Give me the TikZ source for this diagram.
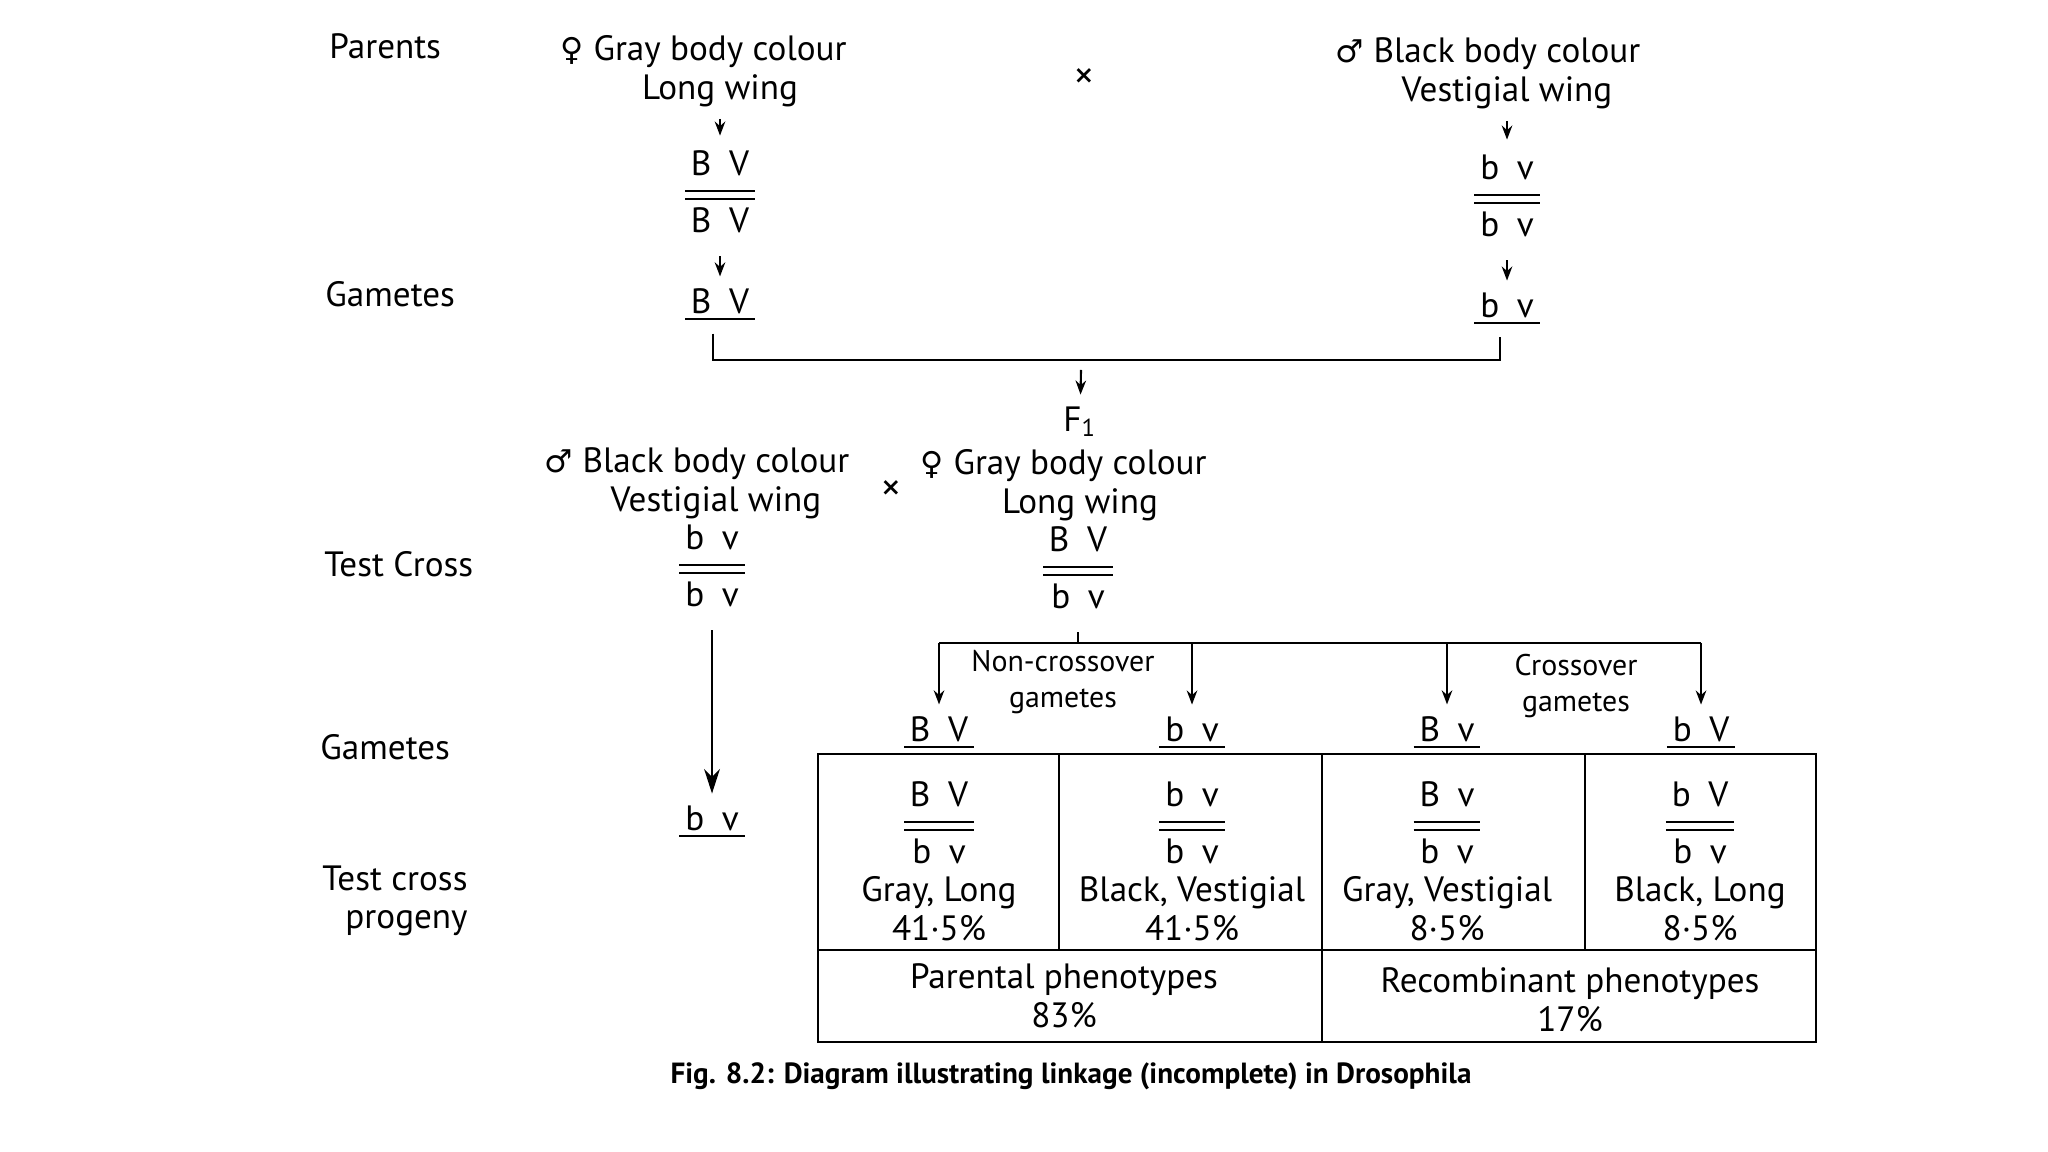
\documentclass[tikz,border=0pt]{standalone}
\usepackage{fontspec}
\setmainfont{PT Sans}
\newfontfamily\symfont{DejaVu Sans}
\usetikzlibrary{arrows.meta, positioning}

\setlength{\arrayrulewidth}{0.6pt}
\newcommand{\fem}{{\symfont\small ♀}}
\newcommand{\mal}{{\symfont\small ♂}}
\newcommand{\crossmark}{{\symfont\bfseries\scriptsize ×}}
\newcommand{\gpair}[2]{\begin{tabular}[b]{@{\,}c@{\,}}#1\\[1pt]\hline
  \noalign{\vskip1.6pt}\hline\noalign{\vskip1.5pt}#2\end{tabular}}
\newcommand{\gam}[2]{\underline{\,#1\enspace#2\,}}

\begin{document}
\begin{tikzpicture}[x=0.1mm, y=-0.1mm,
    lbl/.style={anchor=west, font=\fontsize{10}{11}\selectfont},
    txt/.style={align=center, font=\fontsize{10}{11}\selectfont},
    note/.style={align=center, font=\fontsize{8.5}{10}\selectfont},
    arr/.style={-{Stealth[length=4pt, width=3pt]}, semithick},
    bigarr/.style={-{Stealth[length=7pt, width=4.5pt]}, semithick},
    frame/.style={semithick}
  ]
    \useasboundingbox (0,0) rectangle (2048,1152);

    % Row labels
    \node[lbl] (lpar) at (317,46) {Parents};
    \node[lbl] (lgam) at (313,294) {Gametes};
    \node[lbl] (ltest) at (312,564) {Test Cross};
    \node[lbl] (ltgam) at (308,747) {Gametes};
    \node[lbl, anchor=east, align=right] (lprog) at (480,901)
      {Test cross\\progeny};

    % Parents
    \node[txt] (fpar) at (720,71) {\llap{\fem\ }Gray body colour\\Long wing};
    \node[txt] (mpar) at (1507,73) {\llap{\mal\ }Black body colour\\Vestigial wing};
    \node (cross) at (1084,76) {\crossmark};

    \node[txt] (fgeno) at (720,196) {\gpair{B\enspace V}{B\enspace V}};
    \node[txt] (mgeno) at (1507,200) {\gpair{b\enspace v}{b\enspace v}};
    \node[txt] (fgam) at (720,305) {\gam{B}{V}};
    \node[txt] (mgam) at (1507,309) {\gam{b}{v}};

    \draw[arr] (fpar) -- (fgeno);
    \draw[arr] (fgeno) -- (fgam);
    \draw[arr] (mpar) -- (mgeno);
    \draw[arr] (mgeno) -- (mgam);

    % F1
    \coordinate (join) at (1081,360);
    \coordinate (fone) at (1081,370);
    \node[txt] (f1) at (1080,422) {F\textsubscript{1}};
    \draw[semithick] ([xshift=-2pt]fgam.south) |- (join) -| ([xshift=-2pt]mgam.south);
    \draw[arr] (fone) -- (f1);

    % Test cross
    \node[txt] (tmpar) at (716,483) {\llap{\mal\ }Black body colour\\Vestigial wing};
    \node (tcross) at (891,488) {\crossmark};
    \node[txt] (tfpar) at (1080,485) {\llap{\fem\ }Gray body colour\\Long wing};
    \node[txt] (tmgeno) at (712,570) {\gpair{b\enspace v}{b\enspace v}};
    \node[txt] (tfgeno) at (1078,572) {\gpair{B\enspace V}{b\enspace v}};
    \node[txt] (tmgam) at (712,822) {\gam{b}{v}};
    \draw[bigarr] (tmgeno) -- (tmgam);

    % Gametes of the F1 female
    \coordinate (split) at (1078,643);
    \node[txt] (g1) at (939,733) {\gam{B}{V}};
    \node[txt] (g2) at (1192,733) {\gam{b}{v}};
    \node[txt] (g3) at (1447,733) {\gam{B}{v}};
    \node[txt] (g4) at (1701,733) {\gam{b}{V}};
    \node[note] (nco) at (1063,682) {Non-crossover\\gametes};
    \node[note] (co) at (1576,686) {Crossover\\gametes};

    \draw[semithick] (tfgeno) -- (split);
    \draw[semithick] (g1 |- split) -- (g4 |- split);
    \foreach \g in {g1,g2,g3,g4}
      \draw[arr] (\g |- split) -- (\g);

    % Progeny table
    \draw[frame] (818,754) rectangle (1816,1042);
    \draw[frame] (818,950) -- (1816,950);
    \foreach \x in {1059,1322,1585}
      \draw[frame] (\x,754) -- (\x,950);
    \draw[frame] (1322,950) -- (1322,1042);

    \node[txt] (c1) at (939,860) {\gpair{B\enspace V}{b\enspace v}\\Gray, Long\\41·5\%};
    \node[txt] (c2) at (1192,860) {\gpair{b\enspace v}{b\enspace v}\\Black, Vestigial\\41·5\%};
    \node[txt] (c3) at (1447,860) {\gpair{B\enspace v}{b\enspace v}\\Gray, Vestigial\\8·5\%};
    \node[txt] (c4) at (1700,860) {\gpair{b\enspace V}{b\enspace v}\\Black, Long\\8·5\%};

    \node[txt] (par) at (1064,996) {Parental phenotypes\\83\%};
    \node[txt] (rec) at (1570,1000) {Recombinant phenotypes\\17\%};

    % Caption
    \node[font=\fontsize{8.3}{10}\selectfont\bfseries] (cap) at (1071,1076)
      {Fig. 8.2: Diagram illustrating linkage (incomplete) in Drosophila};
  \end{tikzpicture}
\end{document}
